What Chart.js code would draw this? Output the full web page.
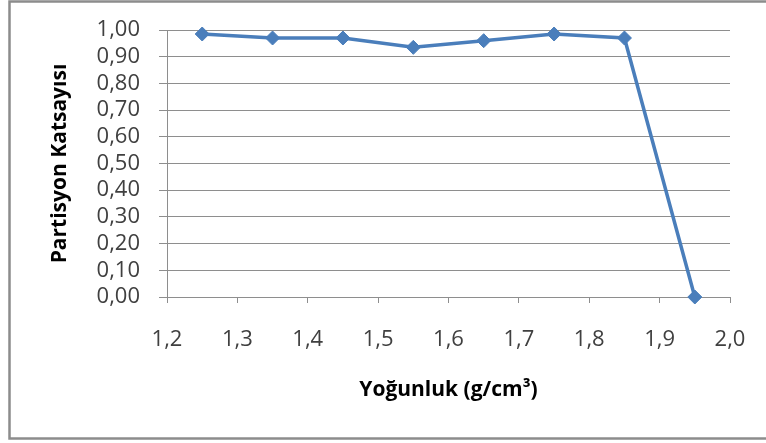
<!DOCTYPE html>
<html>
<head>
<meta charset="utf-8">
<script src="https://cdn.jsdelivr.net/npm/chart.js@4/dist/chart.umd.min.js"></script>
<style>
  html, body { margin: 0; padding: 0; background: #ffffff; }
  #wrap { position: relative; width: 766px; height: 443px; }
</style>
</head>
<body>
<div id="wrap"><canvas id="chart" width="766" height="443"></canvas></div>
<script>
// Density classes (g/cm³) and partition coefficient per class
const densities = [1.25, 1.35, 1.45, 1.55, 1.65, 1.75, 1.85, 1.95];
const partition = [0.985, 0.97, 0.97, 0.935, 0.96, 0.985, 0.97, 0.00];

// Axis labels and ranges
const xTitle = 'Yoğunluk (g/cm³)';
const yTitle = 'Partisyon Katsayısı';
const xRange = [1.2, 2.0];
const yRange = [0, 1];

const FONT = '"Open Sans", "Liberation Sans", sans-serif';
const lineColor = '#4a7ebb';
const gridColor = '#8e8e8e';

const fmt = (v, d) => Number(v).toFixed(d).replace('.', ',');

// Outer frame around the whole chart
const framePlugin = {
  id: 'frame',
  beforeDraw(chart) {
    const ctx = chart.ctx;
    ctx.save();
    ctx.fillStyle = '#ffffff';
    ctx.fillRect(0, 0, chart.width, chart.height);
    ctx.strokeStyle = '#8c8c8c';
    ctx.lineWidth = 2.5;
    ctx.strokeRect(9.5, 1.5, 820, 437);
    ctx.restore();
  }
};

new Chart(document.getElementById('chart'), {
  type: 'scatter',
  data: {
    datasets: [{
      data: densities.map((x, i) => ({ x: x, y: partition[i] })),
      showLine: true,
      borderColor: lineColor,
      backgroundColor: lineColor,
      borderWidth: 3.5,
      pointStyle: 'rectRot',
      pointRadius: 7,
      pointBorderWidth: 1,
      tension: 0,
      clip: false
    }]
  },
  options: {
    responsive: false,
    animation: false,
    devicePixelRatio: 1,
    layout: { autoPadding: false, padding: { top: 30, right: 36, bottom: 0, left: 0 } },
    plugins: { legend: { display: false }, tooltip: { enabled: false } },
    scales: {
      x: {
        type: 'linear',
        min: xRange[0],
        max: xRange[1],
        afterFit(scale) {
          scale.height = 146;
          scale.paddingLeft = 0;
          scale.paddingRight = 0;
        },
        grid: { drawOnChartArea: false, drawTicks: true, tickLength: 6, color: gridColor, lineWidth: 1 },
        border: { display: true, color: gridColor, width: 1 },
        ticks: {
          stepSize: 0.1,
          autoSkip: false,
          padding: 24,
          color: '#404040',
          font: { family: FONT, size: 22 },
          maxRotation: 0,
          callback: v => fmt(v, 1)
        },
        title: {
          display: true,
          text: xTitle,
          color: '#000000',
          font: { family: FONT, size: 21, weight: 'bold' },
          padding: { top: 0, bottom: 40 }
        }
      },
      y: {
        min: yRange[0],
        max: yRange[1],
        afterFit(scale) {
          scale.width = 167;
          scale.paddingTop = 0;
          scale.paddingBottom = 0;
        },
        grid: { drawOnChartArea: true, drawTicks: true, tickLength: 8, color: gridColor, lineWidth: 1 },
        border: { display: true, color: gridColor, width: 1 },
        ticks: {
          stepSize: 0.1,
          autoSkip: false,
          padding: 19,
          color: '#404040',
          font: { family: FONT, size: 22, lineHeight: 1.0 },
          callback: v => fmt(v, 2)
        },
        title: {
          display: true,
          text: yTitle,
          color: '#000000',
          font: { family: FONT, size: 21, weight: 'bold' },
          padding: { top: 47, bottom: 0 }
        }
      }
    }
  },
  plugins: [framePlugin]
});
</script>
</body>
</html>
